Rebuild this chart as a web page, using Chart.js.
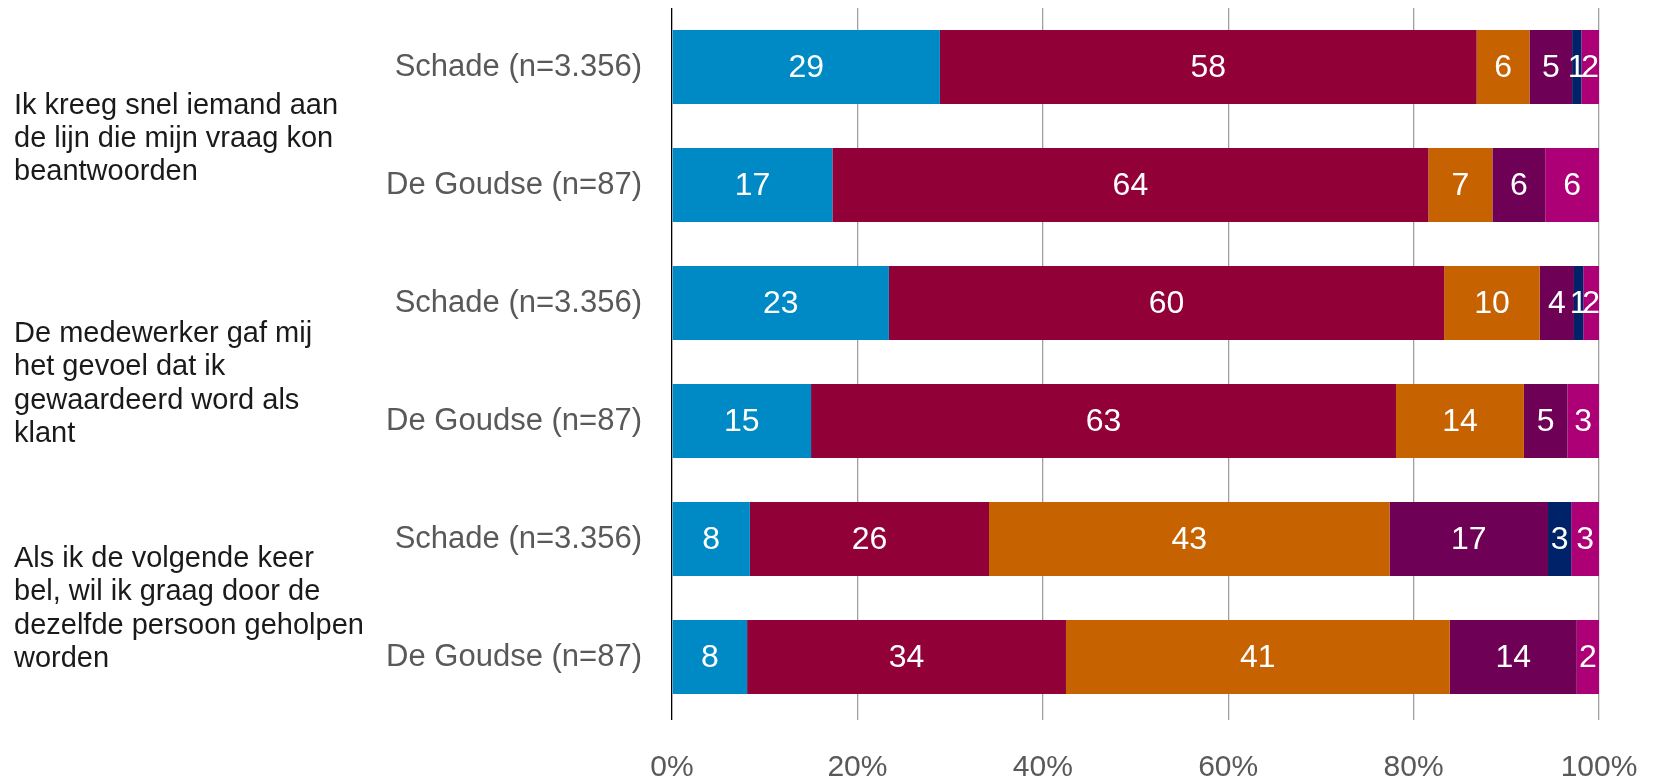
<!DOCTYPE html>
<html>
<head>
<meta charset="utf-8">
<script src="https://cdn.jsdelivr.net/npm/chart.js@4/dist/chart.umd.min.js"></script>
<style>
  html, body { margin: 0; padding: 0; background: #ffffff; }
  #wrap { width: 1657px; height: 781px; position: relative; }
</style>
</head>
<body>
<div id="wrap"><canvas id="c"></canvas></div>
<script>
// ---- Data ----
const categories = [
  "Schade (n=3.356)", "De Goudse (n=87)",
  "Schade (n=3.356)", "De Goudse (n=87)",
  "Schade (n=3.356)", "De Goudse (n=87)"
];
const groupLabels = [
  ["Ik kreeg snel iemand aan", "de lijn die mijn vraag kon", "beantwoorden"],
  ["De medewerker gaf mij", "het gevoel dat ik", "gewaardeerd word als", "klant"],
  ["Als ik de volgende keer", "bel, wil ik graag door de", "dezelfde persoon geholpen", "worden"]
];
const seriesNames = ["Helemaal mee eens", "Mee eens", "Neutraal", "Oneens", "Helemaal oneens", "Weet niet"];
const s1 = [28.9, 17.3, 23.4, 15.0, 8.4, 8.1];
const s2 = [57.9, 64.3, 59.9, 63.1, 25.8, 34.4];
const s3 = [5.7, 6.9, 10.3, 13.8, 43.2, 41.4];
const s4 = [4.6, 5.7, 3.7, 4.7, 17.1, 13.7];
const s5 = [1.0, 0, 1.0, 0, 2.5, 0];
const s6 = [1.9, 5.8, 1.7, 3.4, 3.0, 2.4];
const xTicks = [0, 20, 40, 60, 80, 100];

// ---- Styles ----
const colors = ["#008AC5", "#920038", "#C66200", "#6E0056", "#002268", "#AD0077"];
const FONT = "'Liberation Sans', Arial, Helvetica, sans-serif";
const GROUP_OFFSET_PX = [13, 22, 11];
const ROW_PX = 118;

const seriesValues = [s1, s2, s3, s4, s5, s6];
const datasets = seriesValues.map((vals, i) => ({
  label: seriesNames[i],
  data: vals,
  backgroundColor: colors[i],
  borderWidth: 0,
  barPercentage: 0.627,
  categoryPercentage: 1.0
}));

const valueLabels = {
  id: 'valueLabels',
  afterDatasetsDraw(chart) {
    const ctx = chart.ctx;
    ctx.save();
    ctx.fillStyle = '#ffffff';
    ctx.font = '32px ' + FONT;
    ctx.textAlign = 'center';
    ctx.textBaseline = 'middle';
    chart.data.datasets.forEach((ds, di) => {
      const meta = chart.getDatasetMeta(di);
      meta.data.forEach((bar, i) => {
        const v = ds.data[i];
        if (!v) return;
        const p = bar.getProps(['x', 'y', 'base'], true);
        ctx.fillText(String(Math.round(v)), (p.x + p.base) / 2, p.y + 1);
      });
    });
    ctx.restore();
  }
};

new Chart(document.getElementById('c'), {
  type: 'bar',
  data: { labels: categories, datasets },
  options: {
    indexAxis: 'y',
    responsive: true,
    maintainAspectRatio: false,
    animation: false,
    layout: { padding: { left: 14, right: 58, top: 8, bottom: 0 } },
    plugins: { legend: { display: false }, tooltip: { enabled: false } },
    scales: {
      x: {
        stacked: true,
        min: 0, max: 100,
        afterBuildTicks(axis) { axis.ticks = xTicks.map(v => ({ value: v })); },
        afterFit(axis) { axis.height = 65; axis.paddingLeft = 0; axis.paddingRight = 0; },
        grid: {
          color: c => (c.tick && c.tick.value === 0) ? '#000000' : '#a0a0a0',
          lineWidth: 1.3,
          drawTicks: true,
          tickLength: 4
        },
        border: { display: false },
        ticks: {
          padding: 30,
          color: '#595959',
          font: { family: FONT, size: 30 },
          maxRotation: 0,
          autoSkip: false,
          callback: v => v + '%'
        }
      },
      y: {
        stacked: true,
        weight: 0,
        afterFit(axis) { axis.width = 286; axis.paddingTop = 0; axis.paddingBottom = 0; },
        grid: { display: false, drawTicks: false },
        border: { display: false },
        ticks: {
          padding: 30,
          color: '#595959',
          font: { family: FONT, size: 31 },
          autoSkip: false
        }
      },
      yGroup: {
        type: 'linear',
        position: 'left',
        weight: 10,
        reverse: true,
        offset: false,
        min: -0.5, max: 5.5,
        afterBuildTicks(axis) {
          axis.ticks = groupLabels.map((g, i) => ({ value: 2 * i + 0.5 + GROUP_OFFSET_PX[i] / ROW_PX }));
        },
        afterFit(axis) { axis.width = 372; axis.paddingTop = 0; axis.paddingBottom = 0; },
        grid: { display: false, drawTicks: false, offset: false },
        border: { display: false },
        ticks: {
          crossAlign: 'far',
          color: '#1a1a1a',
          autoSkip: false,
          font: { family: FONT, size: 29, lineHeight: 1.138 },
          callback: (v, i) => groupLabels[i]
        }
      }
    }
  },
  plugins: [valueLabels]
});
</script>
</body>
</html>
